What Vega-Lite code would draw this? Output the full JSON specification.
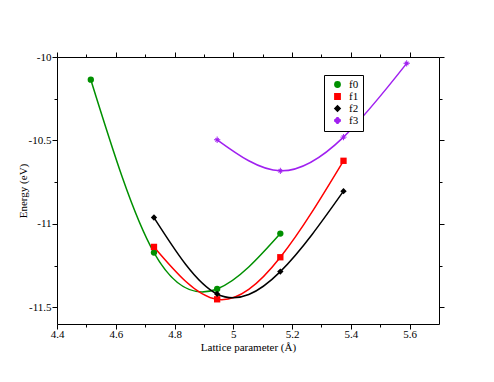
{
  "$schema": "https://vega.github.io/schema/vega-lite/v6.json",
  "width": 382,
  "height": 267,
  "autosize": {"type": "none"},
  "padding": {"left": 57, "top": 57, "right": 55, "bottom": 58},
  "background": "white",
  "data": {
    "values": [
      {"series": "f0", "a": 4.515, "E": -10.136},
      {"series": "f0", "a": 4.73, "E": -11.172},
      {"series": "f0", "a": 4.945, "E": -11.39},
      {"series": "f0", "a": 5.16, "E": -11.058},
      {"series": "f1", "a": 4.73, "E": -11.138},
      {"series": "f1", "a": 4.945, "E": -11.452},
      {"series": "f1", "a": 5.16, "E": -11.2},
      {"series": "f1", "a": 5.375, "E": -10.622},
      {"series": "f2", "a": 4.73, "E": -10.962},
      {"series": "f2", "a": 4.945, "E": -11.42},
      {"series": "f2", "a": 5.16, "E": -11.286},
      {"series": "f2", "a": 5.375, "E": -10.804},
      {"series": "f3", "a": 4.945, "E": -10.496},
      {"series": "f3", "a": 5.16, "E": -10.682},
      {"series": "f3", "a": 5.375, "E": -10.48},
      {"series": "f3", "a": 5.59, "E": -10.038}
    ]
  },
  "layer": [
    {
      "mark": {"type": "point", "opacity": 0},
      "encoding": {
        "x": {
          "field": "a", "type": "quantitative",
          "scale": {"domain": [4.4, 5.7], "nice": false, "zero": false},
          "axis": {"orient": "bottom", "domain": false, "tickSize": 3, "title": null, "labels": false,
                   "values": [4.5, 4.7, 4.9, 5.1, 5.3, 5.5], "grid": false}
        },
        "y": {
          "field": "E", "type": "quantitative",
          "scale": {"domain": [-11.6, -10], "nice": false, "zero": false},
          "axis": {"orient": "left", "domain": false, "tickSize": 3, "title": null, "labels": false,
                   "values": [-11.25, -10.75, -10.25], "grid": false}
        }
      }
    },
    {
      "mark": {"type": "point", "opacity": 0},
      "encoding": {
        "x": {
          "field": "a", "type": "quantitative",
          "axis": {"orient": "top", "domain": false, "tickSize": 3, "title": null, "labels": false,
                   "values": [4.5, 4.7, 4.9, 5.1, 5.3, 5.5], "grid": false}
        },
        "y": {
          "field": "E", "type": "quantitative",
          "axis": {"orient": "right", "domain": false, "tickSize": 3, "title": null, "labels": false,
                   "values": [-11.25, -10.75, -10.25], "grid": false}
        }
      }
    },
    {
      "mark": {"type": "line", "interpolate": "natural", "strokeWidth": 1.5},
      "encoding": {
        "x": {
          "field": "a", "type": "quantitative",
          "axis": {
            "orient": "bottom",
            "title": "Lattice parameter (Å)",
            "values": [4.4, 4.6, 4.8, 5, 5.2, 5.4, 5.6],
            "labelExpr": "'' + datum.value",
            "labelPadding": -1,
            "titlePadding": 2,
            "grid": false
          }
        },
        "y": {
          "field": "E", "type": "quantitative",
          "axis": {
            "orient": "left",
            "title": "Energy (eV)",
            "values": [-11.5, -11, -10.5, -10],
            "labelExpr": "'' + datum.value",
            "labelPadding": 1,
            "titlePadding": 0,
            "grid": false
          }
        },
        "color": {
          "field": "series", "type": "nominal",
          "scale": {"domain": ["f0", "f1", "f2", "f3"], "range": ["#009000", "#ff0000", "#000000", "#a020f0"]}
        }
      }
    },
    {
      "mark": {"type": "point", "filled": true, "size": 40, "opacity": 1},
      "encoding": {
        "x": {
          "field": "a", "type": "quantitative",
          "axis": {
            "orient": "top",
            "title": null,
            "labels": false,
            "values": [4.4, 4.6, 4.8, 5, 5.2, 5.4, 5.6],
            "grid": false
          }
        },
        "y": {
          "field": "E", "type": "quantitative",
          "axis": {
            "orient": "right",
            "title": null,
            "labels": false,
            "values": [-11.5, -11, -10.5, -10],
            "grid": false
          }
        },
        "color": {
          "field": "series", "type": "nominal",
          "scale": {"domain": ["f0", "f1", "f2", "f3"], "range": ["#009000", "#ff0000", "#000000", "#a020f0"]},
          "legend": {"title": null}
        },
        "shape": {
          "field": "series", "type": "nominal",
          "scale": {"domain": ["f0", "f1", "f2", "f3"], "range": ["circle", "square", "diamond", "M-1,-0.15L1,-0.15L1,0.15L-1,0.15ZM-0.15,-1L0.15,-1L0.15,1L-0.15,1ZM-0.46,-0.672L0.672,0.46L0.46,0.672L-0.672,-0.46ZM-0.672,0.46L0.46,-0.672L0.672,-0.46L-0.46,0.672Z"]},
          "legend": {"title": null}
        }
      }
    }
  ],
  "resolve": {"axis": {"x": "independent", "y": "independent"}},
  "config": {
    "view": {"stroke": null},
    "font": "Liberation Serif",
    "legend": {
      "orient": "none",
      "legendX": 267,
      "legendY": 18,
      "strokeColor": "black",
      "fillColor": "white",
      "padding": 4,
      "symbolOffset": 4,
      "labelOffset": 6,
      "rowPadding": -3,
      "symbolSize": 28,
      "labelFont": "Liberation Serif",
      "labelFontSize": 11,
      "labelColor": "black"
    },
    "axis": {
      "domainColor": "black",
      "domainWidth": 1,
      "tickColor": "black",
      "tickWidth": 1,
      "tickSize": 5,
      "labelFont": "Liberation Serif",
      "labelFontSize": 11,
      "labelColor": "black",
      "titleFont": "Liberation Serif",
      "titleFontSize": 11,
      "titleFontWeight": "normal",
      "titleColor": "black",
      "labelFlush": false,
      "labelOverlap": false
    }
  }
}
